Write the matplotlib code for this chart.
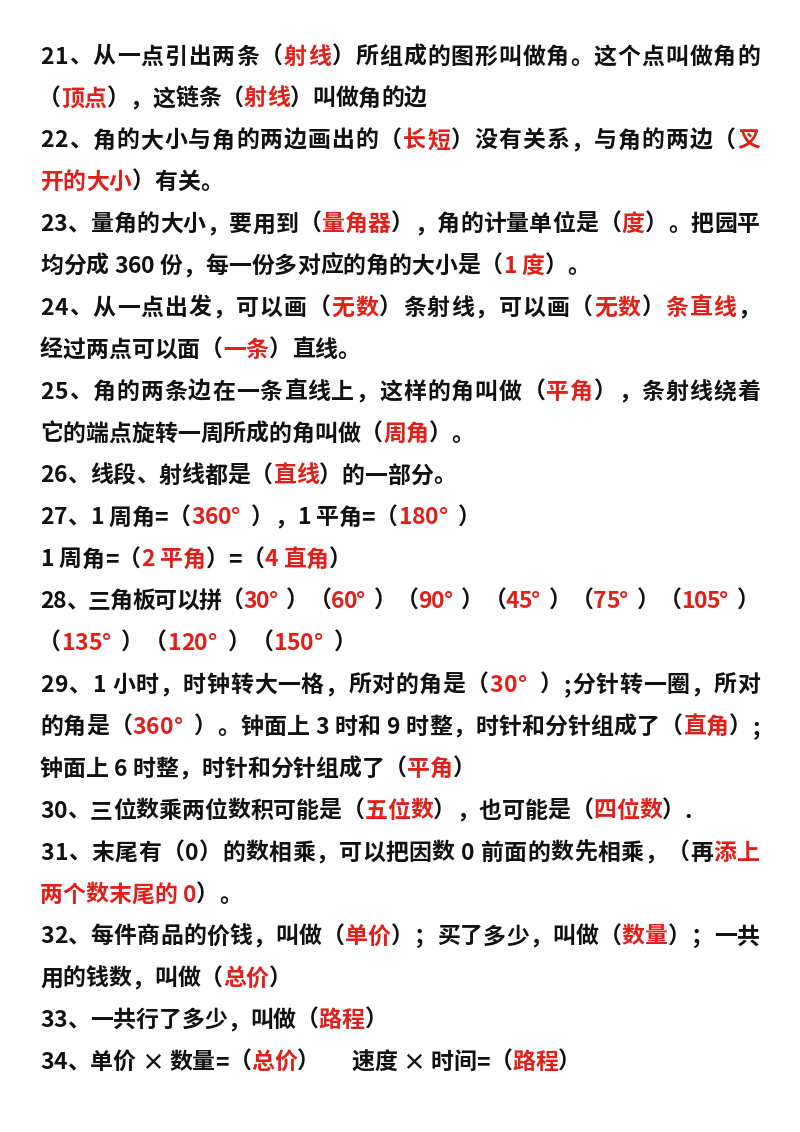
import matplotlib
matplotlib.use("Agg")
import matplotlib.pyplot as plt

R = "#e0201a"; K = "#111111"
lines = [
 [("21、从一点引出两条（",K),("射线",R),("）所组成的图形叫做角。这个点叫做角的",K)],
 [("（",K),("顶点",R),("），这链条（",K),("射线",R),("）叫做角的边",K)],
 [("22、角的大小与角的两边画出的（",K),("长短",R),("）没有关系，与角的两边（",K),("叉",R)],
 [("开的大小",R),("）有关。",K)],
 [("23、量角的大小，要用到（",K),("量角器",R),("），角的计量单位是（",K),("度",R),("）。把园平",K)],
 [("均分成 360 份，每一份多对应的角的大小是（",K),("1 度",R),("）。",K)],
 [("24、从一点出发，可以画（",K),("无数",R),("）条射线，可以画（",K),("无数",R),("）",K),("条直线",R),("，",K)],
 [("经过两点可以面（",K),("一条",R),("）直线。",K)],
 [("25、角的两条边在一条直线上，这样的角叫做（",K),("平角",R),("），条射线绕着",K)],
 [("它的端点旋转一周所成的角叫做（",K),("周角",R),("）。",K)],
 [("26、线段、射线都是（",K),("直线",R),("）的一部分。",K)],
 [("27、1 周角=（",K),("360°",R),("  ），1 平角=（",K),("180°",R),("  ）",K)],
 [("1 周角=（",K),("2 平角",R),("）=（",K),("4 直角",R),("）",K)],
 [("28、三角板可以拼（",K),("30°",R),("  ）（",K),("60°",R),("  ）（",K),("90°",R),("  ）（",K),("45°",R),("  ）（",K),("75°",R),("  ）（",K),("105°",R),("  ）",K)],
 [("（",K),("135°",R),("  ）（",K),("120°",R),("  ）（",K),("150°",R),("  ）",K)],
 [("29、1 小时，时钟转大一格，所对的角是（",K),("30°",R),("  ）;分针转一圈，所对",K)],
 [("的角是（",K),("360°",R),("  ）。钟面上 3 时和 9 时整，时针和分针组成了（",K),("直角",R),("）;",K)],
 [("钟面上 6 时整，时针和分针组成了（",K),("平角",R),("）",K)],
 [("30、三位数乘两位数积可能是（",K),("五位数",R),("），也可能是（",K),("四位数",R),("）.",K)],
 [("31、末尾有（0）的数相乘，可以把因数 0 前面的数先相乘，（再",K),("添上",R)],
 [("两个数末尾的 0",R),("）。",K)],
 [("32、每件商品的价钱，叫做（",K),("单价",R),("）；买了多少，叫做（",K),("数量",R),("）；一共",K)],
 [("用的钱数，叫做（",K),("总价",R),("）",K)],
 [("33、一共行了多少，叫做（",K),("路程",R),("）",K)],
 [("34、单价 × 数量=（",K),("总价",R),("）      速度 × 时间=（",K),("路程",R),("）",K)],
]
justify = {0,2,4,6,8,13,15,16,19,21}

fig = plt.figure(figsize=(8, 11.32), dpi=100)
ax = fig.add_axes([0, 0, 1, 1])
ax.set_xlim(0, 800); ax.set_ylim(1132, 0); ax.axis("off")
fam = ["Noto Sans CJK SC", "DejaVu Sans"]
fs = 16.5
r = fig.canvas.get_renderer()
wcache = {}
def cw(ch):
    if ch not in wcache:
        if ch == " ":
            t = ax.text(0, 0, "a a", fontsize=fs, family=fam, weight="bold")
            t2 = ax.text(0, 0, "aa", fontsize=fs, family=fam, weight="bold")
            wcache[ch] = t.get_window_extent(r).width - t2.get_window_extent(r).width
            t.remove(); t2.remove()
        else:
            t = ax.text(0, 0, ch, fontsize=fs, family=fam, weight="bold")
            wcache[ch] = t.get_window_extent(r).width
            t.remove()
    return wcache[ch]

x0, x1 = 40, 760
for i, segs in enumerate(lines):
    y = 57 + i * 41.9
    chars = [(c, col) for s, col in segs for c in s]
    nat = sum(cw(c) for c, _ in chars)
    extra = (x1 - x0 - nat) / (len(chars) - 1) if i in justify else 0
    x = x0 - (2 if chars[0][0] == "（" else 0)
    for c, col in chars:
        if c != " ":
            ax.text(x, y, c, fontsize=fs, family=fam, weight="bold", color=col,
                    va="center", ha="left")
        x += cw(c) + extra
fig.savefig("out.png", dpi=100, facecolor="white")
